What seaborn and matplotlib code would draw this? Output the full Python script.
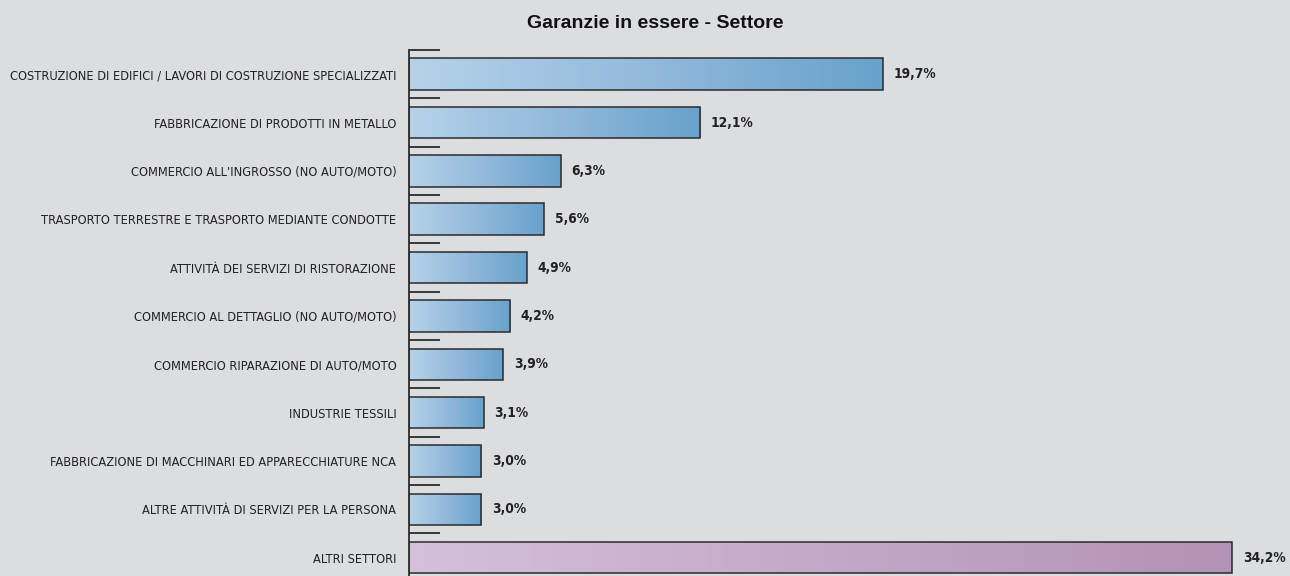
import numpy as np
import pandas as pd
import matplotlib
matplotlib.use("Agg")
import matplotlib.pyplot as plt
from matplotlib.colors import LinearSegmentedColormap
import seaborn as sns

categories = [
    "COSTRUZIONE DI EDIFICI / LAVORI DI COSTRUZIONE SPECIALIZZATI",
    "FABBRICAZIONE DI PRODOTTI IN METALLO",
    "COMMERCIO ALL'INGROSSO (NO AUTO/MOTO)",
    "TRASPORTO TERRESTRE E TRASPORTO MEDIANTE CONDOTTE",
    "ATTIVITÀ DEI SERVIZI DI RISTORAZIONE",
    "COMMERCIO AL DETTAGLIO (NO AUTO/MOTO)",
    "COMMERCIO RIPARAZIONE DI AUTO/MOTO",
    "INDUSTRIE TESSILI",
    "FABBRICAZIONE DI MACCHINARI ED APPARECCHIATURE NCA",
    "ALTRE ATTIVITÀ DI SERVIZI PER LA PERSONA",
    "ALTRI SETTORI",
]
values = [19.7, 12.1, 6.3, 5.6, 4.9, 4.2, 3.9, 3.1, 3.0, 3.0, 34.2]
value_labels = ["19,7%", "12,1%", "6,3%", "5,6%", "4,9%", "4,2%", "3,9%",
                "3,1%", "3,0%", "3,0%", "34,2%"]
title = "Garanzie in essere - Settore"

BG = "#dcdde0"
EDGE = "#2b2b2b"
blue_cmap = LinearSegmentedColormap.from_list("blue", ["#b5d2e9", "#93b9dc", "#68a2cb"])
purple_cmap = LinearSegmentedColormap.from_list("purple", ["#d4c0d8", "#b491b7"])

sns.set_theme(style="white")
plt.rcParams["font.family"] = ["DejaVu Sans"]
plt.rcParams["font.stretch"] = "condensed"

df = pd.DataFrame({"settore": categories, "quota": values})

fig = plt.figure(figsize=(12.9, 5.76), dpi=100, facecolor=BG)
ax = fig.add_axes([409 / 1290, 0.0, 1 - 409 / 1290, 1 - 50 / 576])
ax.set_facecolor(BG)

sns.barplot(data=df, y="settore", x="quota", orient="h", ax=ax,
            color="#7fb0d4", width=0.65, edgecolor=EDGE, linewidth=1.1,
            saturation=1)

xmax = (1290 - 409) / 24.06

# gradient fill clipped to each bar
grad = np.linspace(0, 1, 256).reshape(1, -1)
for i, patch in enumerate(ax.patches):
    x0, y0 = patch.get_x(), patch.get_y()
    w, h = patch.get_width(), patch.get_height()
    cmap = purple_cmap if i == len(values) - 1 else blue_cmap
    im = ax.imshow(grad, cmap=cmap, aspect="auto",
                   extent=(x0, x0 + w, y0 + h, y0), zorder=patch.get_zorder() - 0.1,
                   interpolation="bilinear")
    im.set_clip_path(patch)
    patch.set_facecolor("none")
    patch.set_zorder(3)
    ax.text(x0 + w + 0.45, y0 + h / 2, value_labels[i], va="center", ha="left",
            fontsize=9.8, fontweight="bold", color="#222222",
            fontstretch="condensed")

ax.set_xlim(0, xmax)
ax.set_ylim(10.38, -0.5)

ax.set_xlabel("")
ax.set_ylabel("")
ax.set_xticks([])
ax.set_yticks(range(len(categories)))
ax.set_yticklabels(categories, fontsize=9.2, color="#222222",
                   fontstretch="condensed")
ax.tick_params(axis="y", which="major", length=0, pad=9)
ax.set_yticks(np.arange(len(categories)) - 0.5, minor=True)
ax.tick_params(axis="y", which="minor", direction="in", length=22.5,
               width=1.3, color=EDGE, left=True)

for side in ["top", "right", "bottom"]:
    ax.spines[side].set_visible(False)
ax.spines["left"].set_color(EDGE)
ax.spines["left"].set_linewidth(1.3)

fig.text(655 / 1290, 1 - 24 / 576, title, ha="center", va="center",
         fontsize=14, fontweight="bold", color="#111111",
         family="Liberation Sans", fontstretch="normal")

fig.savefig("out.png", dpi=100, facecolor=BG)
